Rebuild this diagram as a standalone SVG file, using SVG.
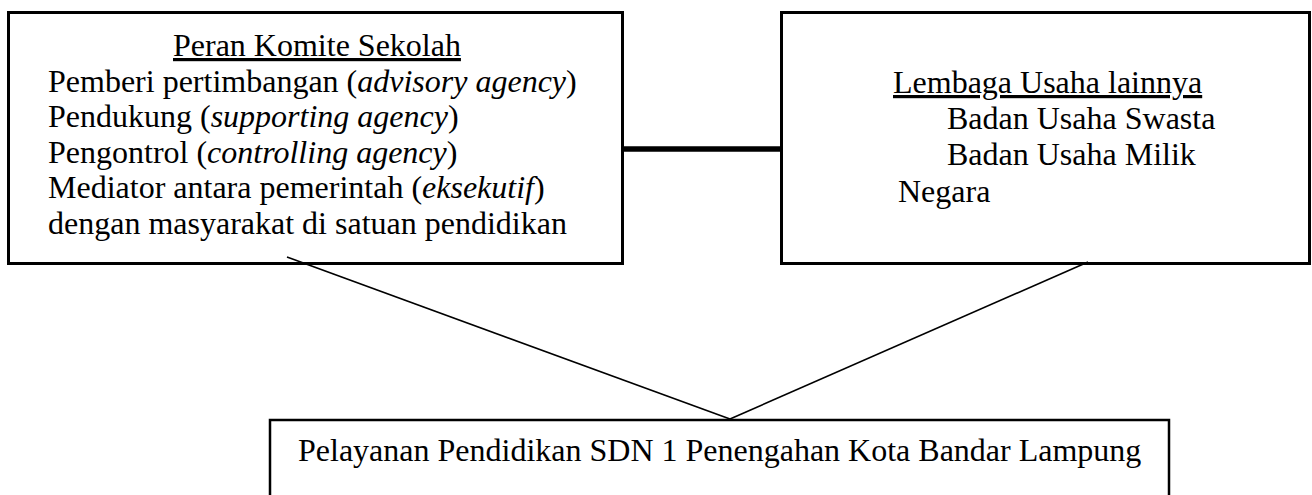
<svg xmlns="http://www.w3.org/2000/svg" width="1312" height="495" viewBox="0 0 1312 495">
<style>
.box{fill:#fff;stroke:#000;stroke-width:3}
.t{font-family:"Liberation Serif","Times New Roman",serif;font-size:32px;fill:#000}
.u{text-decoration:underline}
.i{font-style:italic}
.c{stroke:#000;stroke-width:1.6;fill:none}
</style>
<rect width="1312" height="495" fill="#fff"/>
<g id="peran-komite">
<rect class="box" x="8.5" y="12.5" width="614" height="251"/>
<text class="t u" x="173" y="56">Peran Komite Sekolah</text>
<text class="t" x="48" y="92">Pemberi pertimbangan (<tspan class="i">advisory agency</tspan>)</text>
<text class="t" x="48" y="127">Pendukung (<tspan class="i">supporting agency</tspan>)</text>
<text class="t" x="48" y="163">Pengontrol (<tspan class="i">controlling agency</tspan>)</text>
<text class="t" x="48" y="198">Mediator antara pemerintah (<tspan class="i">eksekutif</tspan>)</text>
<text class="t" x="48" y="234">dengan masyarakat di satuan pendidikan</text>
</g>
<g id="lembaga-usaha">
<rect class="box" x="781.5" y="12.5" width="528" height="251"/>
<text class="t u" x="893" y="93">Lembaga Usaha lainnya</text>
<text class="t" x="947" y="129">Badan Usaha Swasta</text>
<text class="t" x="947" y="165">Badan Usaha Milik</text>
<text class="t" x="898" y="202">Negara</text>
</g>
<g id="pelayanan">
<rect x="270" y="420" width="899" height="90" fill="#fff" stroke="#000" stroke-width="2.5"/>
<text class="t" x="298" y="461">Pelayanan Pendidikan SDN 1 Penengahan Kota Bandar Lampung</text>
</g>
<g id="connectors">
<line x1="623" y1="149" x2="781" y2="149" stroke="#000" stroke-width="5.5"/>
<line class="c" x1="287" y1="257" x2="730" y2="419"/>
<line class="c" x1="1088" y1="262" x2="730" y2="419"/>
</g>
</svg>
